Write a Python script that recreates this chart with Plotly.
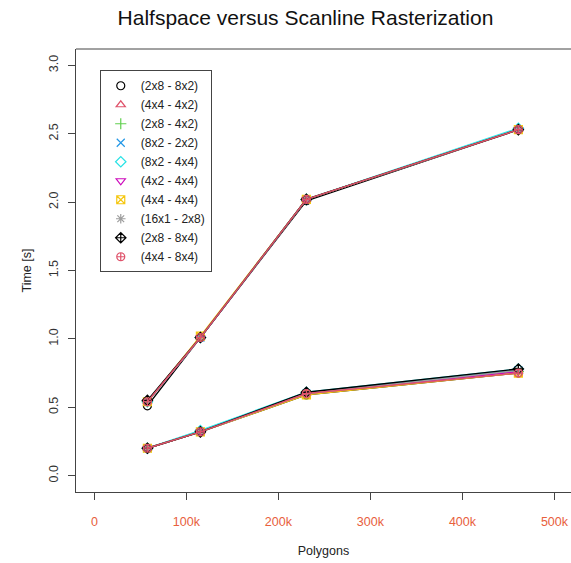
import plotly.graph_objects as go

polygons = [57600, 115200, 230400, 460800]
series_names = ["(2x8 - 8x2)", "(4x4 - 4x2)", "(2x8 - 4x2)", "(8x2 - 2x2)", "(8x2 - 4x4)",
                "(4x2 - 4x4)", "(4x4 - 4x4)", "(16x1 - 2x8)", "(2x8 - 8x4)", "(4x4 - 8x4)"]
colors = ["#000000", "#DF536B", "#61D04F", "#2297E6", "#28E2E5",
          "#CD0BBC", "#F5C710", "#9E9E9E", "#000000", "#DF536B"]
symbols = ["circle-open", "triangle-up-open", "cross-thin-open", "x-thin-open", "diamond-open",
           "triangle-down-open", "square-x-open", "asterisk-open", "diamond-cross-open", "circle-cross-open"]

halfspace = [
    [0.51, 1.01, 2.01, 2.53],
    [0.54, 1.01, 2.02, 2.53],
    [0.54, 1.01, 2.02, 2.53],
    [0.54, 1.01, 2.02, 2.53],
    [0.54, 1.01, 2.02, 2.54],
    [0.54, 1.01, 2.02, 2.53],
    [0.54, 1.02, 2.02, 2.53],
    [0.54, 1.01, 2.02, 2.53],
    [0.55, 1.01, 2.02, 2.53],
    [0.54, 1.01, 2.02, 2.53],
]
scanline = [
    [0.20, 0.32, 0.59, 0.75],
    [0.20, 0.32, 0.60, 0.76],
    [0.20, 0.32, 0.60, 0.76],
    [0.20, 0.32, 0.60, 0.77],
    [0.20, 0.33, 0.61, 0.78],
    [0.20, 0.32, 0.60, 0.76],
    [0.20, 0.32, 0.59, 0.75],
    [0.20, 0.32, 0.60, 0.77],
    [0.20, 0.32, 0.61, 0.78],
    [0.20, 0.32, 0.60, 0.75],
]

y_ticks = [0.0, 0.5, 1.0, 1.5, 2.0, 2.5, 3.0]
x_ticks = [0, 100000, 200000, 300000, 400000, 500000]
x_tick_labels = ["0", "100k", "200k", "300k", "400k", "500k"]

fig = go.Figure()
for i, name in enumerate(series_names):
    for vals in (halfspace[i], scanline[i]):
        fig.add_trace(go.Scatter(
            x=polygons, y=vals, mode="lines+markers", showlegend=False,
            line=dict(color=colors[i], width=1.4),
            marker=dict(symbol=symbols[i], color=colors[i], size=8,
                        line=dict(color=colors[i], width=1.2)),
        ))
for i, name in enumerate(series_names):
    fig.add_trace(go.Scatter(
        x=[None], y=[None], mode="markers", name=name, showlegend=True,
        marker=dict(symbol=symbols[i], color=colors[i], size=8,
                    line=dict(color=colors[i], width=1.2)),
    ))

fig.update_layout(
    width=571, height=563,
    margin=dict(l=76, r=0, t=49, b=71),
    paper_bgcolor="white", plot_bgcolor="white",
    font=dict(family="Liberation Sans, Arial, sans-serif", color="#222222"),
    title=dict(text="Halfspace versus Scanline Rasterization", x=0.535, xanchor="center",
               y=0.968, yanchor="middle", font=dict(size=21, color="#111111")),
    showlegend=True,
    legend=dict(x=0.048, y=0.952, xanchor="left", yanchor="top",
                bordercolor="#444444", borderwidth=1, bgcolor="white",
                font=dict(size=12, color="#222222"), tracegroupgap=0,
                itemwidth=30),
    xaxis=dict(range=[-20000, 518000], tickvals=x_ticks, ticktext=x_tick_labels,
               showgrid=False, zeroline=False, showline=True, linecolor="#444444",
               linewidth=1, ticks="outside", ticklen=7, tickcolor="#444444",
               tickfont=dict(size=12.5, color="#E8603C"), ticklabelstandoff=11,
               title=dict(text="Polygons", font=dict(size=12.5, color="#222222"), standoff=18)),
    yaxis=dict(range=[-0.12, 3.12], tickvals=y_ticks, ticktext=[f"{v:.1f}" for v in y_ticks],
               showgrid=False, zeroline=False, showline=True, linecolor="#444444",
               linewidth=1, ticks="outside", ticklen=7, tickcolor="#444444",
               tickangle=-90, tickfont=dict(size=12.5, color="#333333"), ticklabelstandoff=5,
               title=dict(text="Time [s]", font=dict(size=12.5, color="#222222"), standoff=12)),
)
fig.add_shape(type="line", xref="paper", yref="paper", x0=0, x1=1, y0=1, y1=1,
              line=dict(color="#444444", width=1))

fig.write_html("out.html")
